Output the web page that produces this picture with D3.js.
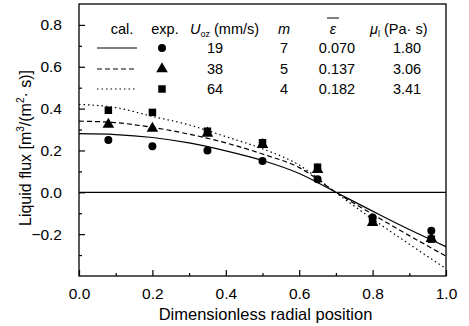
<!DOCTYPE html>
<html>
<head>
<meta charset="utf-8">
<script src="https://cdn.jsdelivr.net/npm/d3@7"></script>
<style>
  body { margin: 0; background: #fff; }
  svg text { font-family: "Liberation Sans", Arial, sans-serif; fill: #000; }
</style>
</head>
<body>
<script>
// curve sample positions and the model values
var xCurve = [0, 0.1, 0.2, 0.3, 0.4, 0.5, 0.6, 0.7, 0.8, 0.9, 1.0]
var cal19 = [0.28, 0.276, 0.262, 0.236, 0.198, 0.152, 0.09, 0.0, -0.09, -0.178, -0.26]
var cal38 = [0.34, 0.333, 0.31, 0.278, 0.236, 0.183, 0.118, 0.0, -0.105, -0.207, -0.305]
var cal64 = [0.42, 0.405, 0.363, 0.322, 0.266, 0.208, 0.13, -0.002, -0.128, -0.248, -0.365]

// experimental points
var xExp = [0.08, 0.2, 0.35, 0.5, 0.65, 0.8, 0.96]
var exp19 = [0.25, 0.22, 0.20, 0.15, 0.062, -0.12, -0.184]
var exp38 = [0.324, 0.305, 0.282, 0.228, 0.108, -0.145, -0.222]
var exp64 = [0.392, 0.382, 0.292, 0.237, 0.12, -0.13, -0.224]

// legend table
var uoz = ['19', '38', '64']
var mVals = ['7', '5', '4']
var epsVals = ['0.070', '0.137', '0.182']
var muVals = ['1.80', '3.06', '3.41']

var xTicks = [0, 0.2, 0.4, 0.6, 0.8, 1.0]
var yTicks = [-0.2, 0, 0.2, 0.4, 0.6, 0.8]

var w = 469
var h = 326
var margin = {top: 4, right: 23, bottom: 50, left: 79}

var svg = d3.select('body')
  .append('svg')
  .attr('width', w)
  .attr('height', h)

var x = d3.scaleLinear().domain([0, 1]).range([margin.left, w - margin.right])
var y = d3.scaleLinear().domain([-0.4, 0.9]).range([h - margin.bottom, margin.top])

// minor ticks
svg.append('g')
  .attr('transform', 'translate(0,' + y(-0.4) + ')')
  .call(d3.axisBottom(x).tickValues([0.1, 0.3, 0.5, 0.7, 0.9]).tickSize(-3).tickFormat(''))
svg.append('g')
  .attr('transform', 'translate(' + x(0) + ',0)')
  .call(d3.axisLeft(y).tickValues([-0.3, -0.1, 0.1, 0.3, 0.5, 0.7]).tickSize(-3).tickFormat(''))

// major ticks + labels
svg.append('g')
  .attr('transform', 'translate(0,' + y(-0.4) + ')')
  .call(d3.axisBottom(x).tickValues(xTicks).tickSize(-6).tickPadding(12).tickFormat(d3.format('.1f')))
svg.append('g')
  .attr('transform', 'translate(' + x(0) + ',0)')
  .call(d3.axisLeft(y).tickValues(yTicks).tickSize(-6).tickPadding(17).tickFormat(d3.format('.1f')))

svg.selectAll('.domain').remove()
svg.selectAll('.tick line').attr('stroke', '#000').attr('stroke-width', 1.2)
svg.selectAll('.tick text').attr('font-size', '15.5px').attr('font-family', null)

// frame
svg.append('rect')
  .attr('x', x(0)).attr('y', y(0.9))
  .attr('width', x(1) - x(0)).attr('height', y(-0.4) - y(0.9))
  .attr('fill', 'none').attr('stroke', '#000').attr('stroke-width', 1.3)

// zero line
svg.append('line')
  .attr('x1', x(0)).attr('x2', x(1)).attr('y1', y(0)).attr('y2', y(0))
  .attr('stroke', '#000').attr('stroke-width', 1.2)

// model curves
var dashes = [null, '5,3', '1.5,3']
var line = d3.line()
  .x(function(d, i){ return x(xCurve[i]) })
  .y(function(d){ return y(d) })
  .curve(d3.curveMonotoneX)

svg.selectAll('path.cal')
  .data([cal19, cal38, cal64])
  .enter()
  .append('path')
  .attr('class', 'cal')
  .attr('d', line)
  .attr('fill', 'none')
  .attr('stroke', '#000')
  .attr('stroke-width', 1.2)
  .attr('stroke-dasharray', function(d, i){ return dashes[i] })

// experimental markers
var symbols = [d3.symbolCircle, d3.symbolTriangle, d3.symbolSquare]
var sizes = [50, 58, 56]
var series = [exp19, exp38, exp64]

series.forEach(function(s, k){
  svg.selectAll('path.exp' + k)
    .data(s)
    .enter()
    .append('path')
    .attr('class', 'exp' + k)
    .attr('d', d3.symbol().type(symbols[k]).size(sizes[k]))
    .attr('transform', function(d, i){ return 'translate(' + x(xExp[i]) + ',' + y(d) + ')' })
    .attr('fill', '#000')
})

// axis titles
svg.append('text')
  .attr('x', (x(0) + x(1)) / 2 + 3)
  .attr('y', 320)
  .attr('text-anchor', 'middle')
  .attr('font-size', '16.5px')
  .text('Dimensionless radial position')

var yt = svg.append('text')
  .attr('transform', 'translate(31,148) rotate(-90)')
  .attr('text-anchor', 'middle')
  .attr('font-size', '16px')
yt.append('tspan').text('Liquid flux [m')
yt.append('tspan').attr('font-size', '10px').attr('dy', -7).text('3')
yt.append('tspan').attr('dy', 7).text('/(m')
yt.append('tspan').attr('font-size', '10px').attr('dy', -7).text('2')
yt.append('tspan').attr('dy', 7).text('· s)]')

// legend
var lg = svg.append('g').attr('font-size', '14.5px')
var rowY = [48, 69, 89]
var headY = 34

lg.append('text').attr('x', 122).attr('y', headY).attr('text-anchor', 'middle').text('cal.')
lg.append('text').attr('x', 165).attr('y', headY).attr('text-anchor', 'middle').text('exp.')
var hu = lg.append('text').attr('x', 190).attr('y', headY)
hu.append('tspan').attr('font-style', 'italic').text('U')
hu.append('tspan').attr('font-size', '9px').attr('dy', 3).text('oz')
hu.append('tspan').attr('dy', -3).text(' (mm/s)')
lg.append('text').attr('x', 284).attr('y', headY).attr('text-anchor', 'middle').attr('font-style', 'italic').text('m')
lg.append('text').attr('x', 333).attr('y', headY).attr('text-anchor', 'middle').attr('font-style', 'italic').text('ε')
lg.append('line').attr('x1', 327).attr('x2', 339).attr('y1', 18).attr('y2', 18).attr('stroke', '#000').attr('stroke-width', 1)
var hm = lg.append('text').attr('x', 370).attr('y', headY)
hm.append('tspan').attr('font-style', 'italic').text('μ')
hm.append('tspan').attr('font-size', '9px').attr('dy', 3).text('l')
hm.append('tspan').attr('dy', -3).text(' (Pa· s)')

lg.selectAll('line.sample')
  .data(rowY)
  .enter()
  .append('line')
  .attr('class', 'sample')
  .attr('x1', 97).attr('x2', 137)
  .attr('y1', function(d){ return d }).attr('y2', function(d){ return d })
  .attr('stroke', '#000').attr('stroke-width', 1.2)
  .attr('stroke-dasharray', function(d, i){ return dashes[i] })

lg.selectAll('path.lsym')
  .data(rowY)
  .enter()
  .append('path')
  .attr('class', 'lsym')
  .attr('d', function(d, i){ return d3.symbol().type(symbols[i]).size(sizes[i])() })
  .attr('transform', function(d){ return 'translate(162,' + d + ')' })
  .attr('fill', '#000')

var cols = [[uoz, 215], [mVals, 284], [epsVals, 337], [muVals, 407]]
cols.forEach(function(c){
  lg.selectAll(null)
    .data(c[0])
    .enter()
    .append('text')
    .attr('x', c[1])
    .attr('y', function(d, i){ return rowY[i] + 5 })
    .attr('text-anchor', 'middle')
    .text(function(d){ return d })
})
</script>
</body>
</html>
